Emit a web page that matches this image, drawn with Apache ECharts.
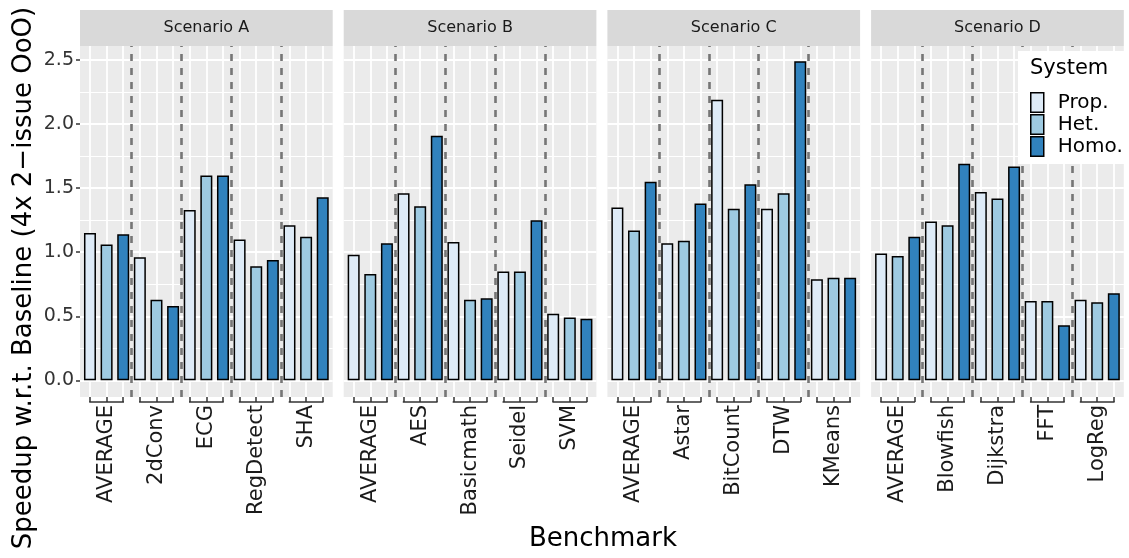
<!DOCTYPE html>
<html>
<head>
<meta charset="utf-8">
<script src="https://cdn.jsdelivr.net/npm/echarts@6/dist/echarts.min.js"></script>
<style>
  html, body { margin: 0; padding: 0; background: #fff; }
  #chart { width: 1129px; height: 558px; }
</style>
</head>
<body>
<div id="chart"></div>
<script>
// Facet titles, benchmark names and systems
const scenarios = ['Scenario A', 'Scenario B', 'Scenario C', 'Scenario D'];
const systems = ['Prop.', 'Het.', 'Homo.'];

const benchmarksA = ['AVERAGE', '2dConv', 'ECG', 'RegDetect', 'SHA'];
const benchmarksB = ['AVERAGE', 'AES', 'Basicmath', 'Seidel', 'SVM'];
const benchmarksC = ['AVERAGE', 'Astar', 'BitCount', 'DTW', 'KMeans'];
const benchmarksD = ['AVERAGE', 'Blowfish', 'Dijkstra', 'FFT', 'LogReg'];

// Speedups per system, one value per benchmark
const propA = [1.15, 0.96, 1.33, 1.10, 1.21];
const hetA  = [1.06, 0.63, 1.60, 0.89, 1.12];
const homoA = [1.14, 0.58, 1.60, 0.94, 1.43];

const propB = [0.98, 1.46, 1.08, 0.85, 0.52];
const hetB  = [0.83, 1.36, 0.63, 0.85, 0.49];
const homoB = [1.07, 1.91, 0.64, 1.25, 0.48];

const propC = [1.35, 1.07, 2.19, 1.34, 0.79];
const hetC  = [1.17, 1.09, 1.34, 1.46, 0.80];
const homoC = [1.55, 1.38, 1.53, 2.49, 0.80];

const propD = [0.99, 1.24, 1.47, 0.62, 0.63];
const hetD  = [0.97, 1.21, 1.42, 0.62, 0.61];
const homoD = [1.12, 1.69, 1.67, 0.43, 0.68];

// Y axis tick labels and minor gridlines
const yTicks = [0, 0.5, 1, 1.5, 2, 2.5];
const yMinor = [0.25, 0.75, 1.25, 1.75, 2.25];

const benchmarks = [benchmarksA, benchmarksB, benchmarksC, benchmarksD];
const values = [
  [propA, hetA, homoA],
  [propB, hetB, homoB],
  [propC, hetC, homoC],
  [propD, hetD, homoD]
];

const colors = ['#deebf7', '#9ecae1', '#3182bd'];
const FONT = 'DejaVu Sans';
const TEXT = '#1a1a1a';

// Panel geometry (pixels)
const PANEL_LEFT = 80, PANEL_STEP = 263.7, PANEL_W = 252.7;
const PANEL_TOP = 46, PANEL_H = 351;
const STRIP_TOP = 10, STRIP_H = 36;
const Y_MIN = -0.13, Y_MAX = 2.61;

const grid = [], xAxis = [], yAxis = [], series = [], graphic = [];

scenarios.forEach((name, i) => {
  const names = benchmarks[i];
  const nSys = systems.length;
  const nBars = names.length * nSys;
  const positions = [];
  for (let k = 1; k <= nBars; k++) positions.push(k);
  const centers = names.map((_, j) => j * nSys + 2);
  const separators = names.slice(1).map((_, j) => (j + 1) * nSys + 0.5);
  const left = PANEL_LEFT + i * PANEL_STEP;

  grid.push({
    left: left, top: PANEL_TOP, width: PANEL_W, height: PANEL_H,
    show: true, backgroundColor: '#ebebeb', borderWidth: 0
  });

  xAxis.push({
    type: 'value', gridIndex: i, min: 0.4, max: nBars + 0.6,
    position: 'bottom',
    axisLine: { show: false, onZero: false },
    axisTick: {
      show: true, customValues: positions, length: 5,
      lineStyle: { color: '#333', width: 1.5 }
    },
    axisLabel: {
      customValues: centers, rotate: 90, margin: 8,
      fontFamily: FONT, fontSize: 21, color: TEXT,
      formatter: v => names[Math.round((v - 2) / nSys)]
    },
    splitLine: { show: true, lineStyle: { color: '#fff', width: 1.8 } }
  });

  // major axis (labels + major gridlines)
  yAxis.push({
    type: 'value', gridIndex: i, min: Y_MIN, max: Y_MAX,
    axisLine: { show: false, onZero: false },
    axisTick: {
      show: i === 0, customValues: yTicks, length: 4,
      lineStyle: { color: '#333', width: 1.5 }
    },
    axisLabel: {
      show: i === 0, customValues: yTicks, margin: 6,
      fontFamily: FONT, fontSize: 19, color: '#333',
      formatter: v => v.toFixed(1)
    },
    splitLine: { show: true, lineStyle: { color: '#fff', width: 1.8 } }
  });
  // minor gridlines
  yAxis.push({
    type: 'value', gridIndex: i, min: Y_MIN, max: Y_MAX,
    axisLine: { show: false, onZero: false },
    axisTick: { show: false, customValues: yMinor },
    axisLabel: { show: false, customValues: yMinor },
    splitLine: { show: true, lineStyle: { color: '#fff', width: 1 } }
  });

  systems.forEach((sys, s) => {
    const item = {
      type: 'bar', name: sys,
      xAxisIndex: i, yAxisIndex: 2 * i,
      barWidth: 12, barGap: '-100%',
      itemStyle: { color: colors[s], borderColor: '#000', borderWidth: 1.5 },
      emphasis: { disabled: true },
      data: values[i][s].map((v, j) => [j * nSys + s + 1, v])
    };
    if (s === nSys - 1) {
      item.markLine = {
        silent: true, symbol: ['none', 'none'],
        label: { show: false },
        lineStyle: { color: '#767676', width: 2.6, type: [7, 7] },
        data: separators.map(x => ({ xAxis: x }))
      };
    }
    series.push(item);
  });

  // bracket bar under each benchmark group
  series.push({
    type: 'custom', xAxisIndex: i, yAxisIndex: 2 * i,
    silent: true, clip: false, z: 3,
    data: names.map((_, j) => [j * nSys + 1, 0, j * nSys + nSys]),
    renderItem: (params, api) => {
      const x1 = api.coord([api.value(0), 0])[0];
      const x2 = api.coord([api.value(2), 0])[0];
      const bottom = params.coordSys.y + params.coordSys.height + 5;
      return {
        type: 'line',
        shape: { x1: x1 - 0.75, y1: bottom, x2: x2 + 0.75, y2: bottom },
        style: { stroke: '#333', lineWidth: 1.5 }
      };
    }
  });

  // facet strip
  graphic.push({
    type: 'rect', z: 1,
    shape: { x: left, y: STRIP_TOP, width: PANEL_W, height: STRIP_H },
    style: { fill: '#d9d9d9' }
  });
  graphic.push({
    type: 'text', z: 2,
    style: {
      text: name, x: left + PANEL_W / 2, y: STRIP_TOP + STRIP_H / 2,
      textAlign: 'center', textVerticalAlign: 'middle',
      font: '16px "DejaVu Sans"', fill: TEXT
    }
  });
});

// legend box and title
graphic.push({
  type: 'rect', z: 6,
  shape: { x: 1018, y: 51, width: 130, height: 113 },
  style: { fill: '#fff' }
});
graphic.push({
  type: 'text', z: 7,
  style: {
    text: 'System', x: 1030, y: 69,
    textAlign: 'left', textVerticalAlign: 'middle',
    font: '21px "DejaVu Sans"', fill: '#000'
  }
});

// axis titles
graphic.push({
  type: 'text', z: 2, x: 24, y: 278, rotation: Math.PI / 2,
  style: {
    text: 'Speedup w.r.t. Baseline (4x 2\u2212issue OoO)', x: 0, y: 0,
    textAlign: 'center', textVerticalAlign: 'middle',
    font: '26px "DejaVu Sans"', fill: '#000'
  }
});
graphic.push({
  type: 'text', z: 2,
  style: {
    text: 'Benchmark', x: 603, y: 539,
    textAlign: 'center', textVerticalAlign: 'middle',
    font: '26px "DejaVu Sans"', fill: '#000'
  }
});

const chart = echarts.init(document.getElementById('chart'), null, { renderer: 'canvas' });
chart.setOption({
  animation: false,
  backgroundColor: '#fff',
  textStyle: { fontFamily: FONT },
  grid: grid,
  xAxis: xAxis,
  yAxis: yAxis,
  legend: {
    data: systems, orient: 'vertical',
    left: 1030, top: 92, padding: 0, z: 8,
    itemWidth: 13, itemHeight: 19.5, itemGap: 1,
    icon: 'rect', selectedMode: false,
    itemStyle: { borderColor: '#000', borderWidth: 1.5 },
    textStyle: { fontFamily: FONT, fontSize: 20, color: '#000', lineHeight: 21, padding: [0, 0, 0, 9] }
  },
  series: series,
  graphic: graphic
});
</script>
</body>
</html>
